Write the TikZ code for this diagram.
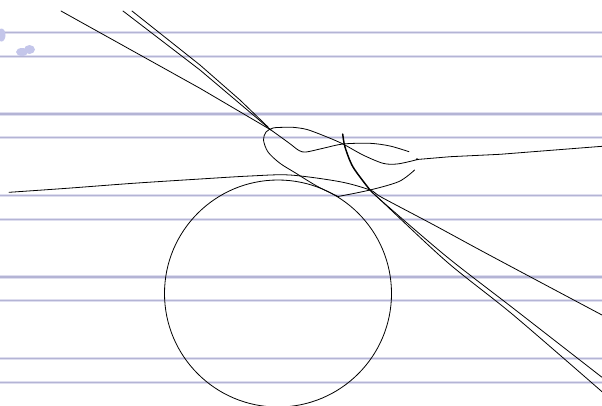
\documentclass[tikz,border=0pt]{standalone}
\usepackage{tikz}
\usetikzlibrary{positioning}
\definecolor{rulecore}{RGB}{180,180,213}
\definecolor{ruleedge}{RGB}{222,222,239}
\definecolor{smudge}{RGB}{196,198,234}

\begin{document}
\begin{tikzpicture}[x=0.75pt,y=-0.75pt,
  rule/.style={draw=rulecore, line width=0.9pt},
  ruleglow/.style={draw=ruleedge, line width=2.4pt},
  pen/.style={draw=black, line width=0.6pt, line join=round, line cap=round},
  thickpen/.style={pen, line width=1.1pt}]

\useasboundingbox (0,0) rectangle (602,405);
\clip (0,0) rectangle (602,405);

% ruled paper
\foreach \y in {32.5,56.1,114,137.6,195.5,219.1,277,300.8,358.6,382.3}{
  \draw[ruleglow] (0,\y) -- (602,\y);
  \draw[rule] (0,\y) -- (602,\y);
}

% smudges top left
\fill[smudge] (1.5,35) ellipse [x radius=4, y radius=6.5];
\fill[smudge] (22,52) ellipse [x radius=6, y radius=4];
\fill[smudge] (29.5,49.5) ellipse [x radius=5.5, y radius=4.5];

\coordinate (cross) at (271,130);
\coordinate (knot) at (370,190);
\coordinate (hookend) at (414.6,170);
\coordinate (corner) at (338,196.5);

% circle
\draw[pen] (278,293.5) circle [radius=113.5];

% lines from the top
\draw[pen] (61,11) -- (200,88.3) -- (cross);
\draw[pen] (123,11) -- (200,70) -- (cross);
\draw[pen] (132,11) -- (200,65) -- (240,100) -- (268,127);

% dip
\draw[pen] plot[smooth] coordinates {(cross) (289,143) (299,150.5) (306,152)
  (323,148.3) (343,144) (370,143.3) (390,146) (409,151.7)};

% hook and loop
\draw[pen] plot[smooth] coordinates {(hookend) (399,181.5) (knot) (corner)};
\draw[pen] plot[smooth] coordinates {(corner) (318.6,187) (306.7,180) (295.6,173)
  (280,163.3) (268,152) (263.5,140) (266,132) (273,128) (284,127.3) (293,127.3)
  (307,129.5) (326.3,136.7) (343,144) (363,155) (383,163.3) (397,164) (413,160.7)
  (417,159.5)}
  -- (450,156.7) -- (500,154.3) -- (533,151.7) -- (602,146.3);
\fill (417,159.3) circle [radius=1.1];

% long flat curve
\draw[pen] plot[smooth] coordinates {(9,192.3) (66.7,188.3) (133,183.3) (200,179)
  (250,176) (290,175) (340,181.7) (knot) (382,197.5) (433,224.5) (480,250)
  (533,278.3) (602,315)};

% steep stroke
\draw[thickpen] plot[smooth] coordinates {(342.7,134) (345,147) (353,167) (knot)};
\draw[pen] plot[smooth] coordinates {(knot) (380,199.5) (446.7,256.7) (513.3,308.3) (602,377.3)};
\draw[pen] plot[smooth] coordinates {(knot) (380,199.5) (446.7,261.7) (513.3,315) (602,391.7)};

\end{tikzpicture}
\end{document}
